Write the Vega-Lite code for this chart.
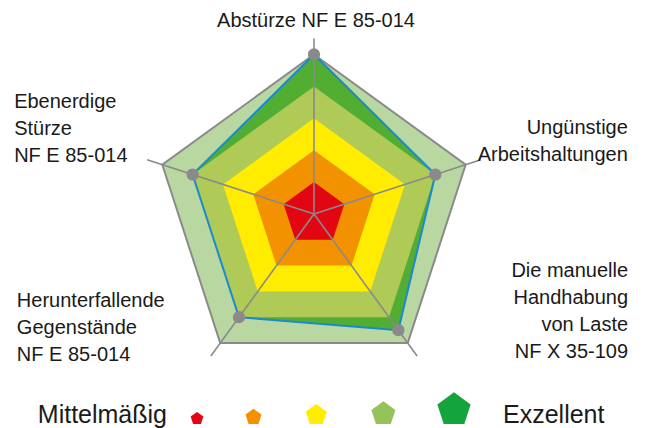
{
  "$schema": "https://vega.github.io/schema/vega-lite/v6.json",
  "padding": 0,
  "spacing": 0,
  "config": {
    "view": {"stroke": null},
    "concat": {"spacing": 0},
    "text": {"font": "Liberation Sans", "fontSize": 20, "color": "#1a1a1a", "lineHeight": 27}
  },
  "datasets": {
    "werte": [
      {"achse": 0, "wert": 5, "kriterium": ["Abstürze NF E 85-014"]},
      {"achse": 1, "wert": 4, "kriterium": ["Ungünstige", "Arbeitshaltungen"]},
      {"achse": 2, "wert": 4.5, "kriterium": ["Die manuelle", "Handhabung", "von Laste", "NF X 35-109"]},
      {"achse": 3, "wert": 4, "kriterium": ["Herunterfallende", "Gegenstände", "NF E 85-014"]},
      {"achse": 4, "wert": 4, "kriterium": ["Ebenerdige", "Stürze", "NF E 85-014"]}
    ],
    "stufen": [
      {"stufe": 1, "achse": 0}, {"stufe": 1, "achse": 1}, {"stufe": 1, "achse": 2}, {"stufe": 1, "achse": 3}, {"stufe": 1, "achse": 4},
      {"stufe": 2, "achse": 0}, {"stufe": 2, "achse": 1}, {"stufe": 2, "achse": 2}, {"stufe": 2, "achse": 3}, {"stufe": 2, "achse": 4},
      {"stufe": 3, "achse": 0}, {"stufe": 3, "achse": 1}, {"stufe": 3, "achse": 2}, {"stufe": 3, "achse": 3}, {"stufe": 3, "achse": 4},
      {"stufe": 4, "achse": 0}, {"stufe": 4, "achse": 1}, {"stufe": 4, "achse": 2}, {"stufe": 4, "achse": 3}, {"stufe": 4, "achse": 4},
      {"stufe": 5, "achse": 0}, {"stufe": 5, "achse": 1}, {"stufe": 5, "achse": 2}, {"stufe": 5, "achse": 3}, {"stufe": 5, "achse": 4}
    ],
    "legende": [
      {"stufe": 1, "text": "Mittelmäßig"},
      {"stufe": 2, "text": ""},
      {"stufe": 3, "text": ""},
      {"stufe": 4, "text": ""},
      {"stufe": 5, "text": "Exzellent"}
    ]
  },
  "vconcat": [
    {
      "width": 646,
      "height": 390,
      "encoding": {
        "x": {"field": "px", "type": "quantitative", "scale": {"domain": [-9.843, 10.408], "nice": false, "zero": false}, "axis": null},
        "y": {"field": "py", "type": "quantitative", "scale": {"domain": [-5.517, 6.708], "nice": false, "zero": false}, "axis": null},
        "order": {"field": "achse", "type": "quantitative"}
      },
      "layer": [
        {
          "data": {"name": "stufen"},
          "transform": [
            {"filter": "datum.stufe == 5"},
            {"calculate": "datum.stufe * sin(datum.achse * 2 * PI / 5)", "as": "px"},
            {"calculate": "datum.stufe * cos(datum.achse * 2 * PI / 5)", "as": "py"}
          ],
          "mark": {"type": "line", "interpolate": "linear-closed", "fill": "#b9d7a0", "stroke": "#8a8a8a", "strokeWidth": 2}
        },
        {
          "data": {"name": "werte"},
          "transform": [
            {"calculate": "datum.wert * sin(datum.achse * 2 * PI / 5)", "as": "px"},
            {"calculate": "datum.wert * cos(datum.achse * 2 * PI / 5)", "as": "py"}
          ],
          "mark": {"type": "line", "interpolate": "linear-closed", "fill": "#52ad33", "strokeWidth": 0}
        },
        {
          "data": {"name": "stufen"},
          "transform": [
            {"filter": "datum.stufe == 4"},
            {"calculate": "datum.stufe * sin(datum.achse * 2 * PI / 5)", "as": "px"},
            {"calculate": "datum.stufe * cos(datum.achse * 2 * PI / 5)", "as": "py"}
          ],
          "mark": {"type": "line", "interpolate": "linear-closed", "fill": "#afca56", "strokeWidth": 0}
        },
        {
          "data": {"name": "stufen"},
          "transform": [
            {"filter": "datum.stufe == 3"},
            {"calculate": "datum.stufe * sin(datum.achse * 2 * PI / 5)", "as": "px"},
            {"calculate": "datum.stufe * cos(datum.achse * 2 * PI / 5)", "as": "py"}
          ],
          "mark": {"type": "line", "interpolate": "linear-closed", "fill": "#ffec00", "strokeWidth": 0}
        },
        {
          "data": {"name": "stufen"},
          "transform": [
            {"filter": "datum.stufe == 2"},
            {"calculate": "datum.stufe * sin(datum.achse * 2 * PI / 5)", "as": "px"},
            {"calculate": "datum.stufe * cos(datum.achse * 2 * PI / 5)", "as": "py"}
          ],
          "mark": {"type": "line", "interpolate": "linear-closed", "fill": "#f29200", "strokeWidth": 0}
        },
        {
          "data": {"name": "stufen"},
          "transform": [
            {"filter": "datum.stufe == 1"},
            {"calculate": "datum.stufe * sin(datum.achse * 2 * PI / 5)", "as": "px"},
            {"calculate": "datum.stufe * cos(datum.achse * 2 * PI / 5)", "as": "py"}
          ],
          "mark": {"type": "line", "interpolate": "linear-closed", "fill": "#e20613", "strokeWidth": 0}
        },
        {
          "data": {"name": "werte"},
          "transform": [
            {"calculate": "5.5 * sin(datum.achse * 2 * PI / 5)", "as": "px"},
            {"calculate": "5.5 * cos(datum.achse * 2 * PI / 5)", "as": "py"}
          ],
          "mark": {"type": "rule", "color": "#8a8a8a", "strokeWidth": 1.6},
          "encoding": {
            "x2": {"datum": 0},
            "y2": {"datum": 0}
          }
        },
        {
          "data": {"name": "werte"},
          "transform": [
            {"calculate": "datum.wert * sin(datum.achse * 2 * PI / 5)", "as": "px"},
            {"calculate": "datum.wert * cos(datum.achse * 2 * PI / 5)", "as": "py"}
          ],
          "mark": {"type": "line", "interpolate": "linear-closed", "stroke": "#1a8ad0", "strokeWidth": 2}
        },
        {
          "data": {"name": "werte"},
          "transform": [
            {"calculate": "datum.wert * sin(datum.achse * 2 * PI / 5)", "as": "px"},
            {"calculate": "datum.wert * cos(datum.achse * 2 * PI / 5)", "as": "py"}
          ],
          "mark": {"type": "circle", "color": "#8a8a8a", "opacity": 1, "size": 150}
        },
        {
          "data": {"name": "werte"},
          "transform": [
            {"filter": "datum.achse == 0"},
            {"calculate": "5.5 * sin(datum.achse * 2 * PI / 5)", "as": "px"},
            {"calculate": "5.5 * cos(datum.achse * 2 * PI / 5)", "as": "py"}
          ],
          "mark": {"type": "text", "align": "center", "baseline": "alphabetic", "dx": 2, "dy": -11.5},
          "encoding": {"text": {"field": "kriterium"}}
        },
        {
          "data": {"name": "werte"},
          "transform": [
            {"filter": "datum.achse == 1"},
            {"calculate": "5.5 * sin(datum.achse * 2 * PI / 5)", "as": "px"},
            {"calculate": "5.5 * cos(datum.achse * 2 * PI / 5)", "as": "py"}
          ],
          "mark": {"type": "text", "align": "right", "baseline": "alphabetic", "dx": 147, "dy": -26},
          "encoding": {"text": {"field": "kriterium"}}
        },
        {
          "data": {"name": "werte"},
          "transform": [
            {"filter": "datum.achse == 2"},
            {"calculate": "5.5 * sin(datum.achse * 2 * PI / 5)", "as": "px"},
            {"calculate": "5.5 * cos(datum.achse * 2 * PI / 5)", "as": "py"}
          ],
          "mark": {"type": "text", "align": "right", "baseline": "alphabetic", "dx": 211, "dy": -79},
          "encoding": {"text": {"field": "kriterium"}}
        },
        {
          "data": {"name": "werte"},
          "transform": [
            {"filter": "datum.achse == 3"},
            {"calculate": "5.5 * sin(datum.achse * 2 * PI / 5)", "as": "px"},
            {"calculate": "5.5 * cos(datum.achse * 2 * PI / 5)", "as": "py"}
          ],
          "mark": {"type": "text", "align": "left", "baseline": "alphabetic", "dx": -194, "dy": -49},
          "encoding": {"text": {"field": "kriterium"}}
        },
        {
          "data": {"name": "werte"},
          "transform": [
            {"filter": "datum.achse == 4"},
            {"calculate": "5.5 * sin(datum.achse * 2 * PI / 5)", "as": "px"},
            {"calculate": "5.5 * cos(datum.achse * 2 * PI / 5)", "as": "py"}
          ],
          "mark": {"type": "text", "align": "left", "baseline": "alphabetic", "dx": -133, "dy": -52},
          "encoding": {"text": {"field": "kriterium"}}
        }
      ]
    },
    {
      "width": 646,
      "height": 38,
      "data": {"name": "legende"},
      "encoding": {
        "x": {"field": "stufe", "type": "quantitative", "scale": {"type": "pow", "exponent": 1.2, "domain": [1, 5], "range": [197, 454], "nice": false, "zero": false}, "axis": null}
      },
      "layer": [
        {
          "mark": {"type": "point", "filled": true, "opacity": 1, "shape": "M0,-1.809L0.951,-1.118L0.588,0L-0.588,0L-0.951,-1.118Z", "yOffset": 15},
          "encoding": {
            "color": {"field": "stufe", "type": "ordinal", "scale": {"type": "ordinal", "range": ["#e30613", "#f39200", "#ffed00", "#95c35a", "#14a43c"]}, "legend": null},
            "size": {"field": "stufe", "type": "ordinal", "scale": {"type": "ordinal", "range": [179, 283, 486, 637, 1227]}, "legend": null}
          }
        },
        {
          "transform": [{"filter": "datum.stufe == 1"}],
          "mark": {"type": "text", "align": "right", "baseline": "alphabetic", "dx": -30, "dy": 14, "fontSize": 25},
          "encoding": {"text": {"field": "text"}}
        },
        {
          "transform": [{"filter": "datum.stufe == 5"}],
          "mark": {"type": "text", "align": "left", "baseline": "alphabetic", "dx": 49, "dy": 14, "fontSize": 25},
          "encoding": {"text": {"field": "text"}}
        }
      ]
    }
  ]
}
